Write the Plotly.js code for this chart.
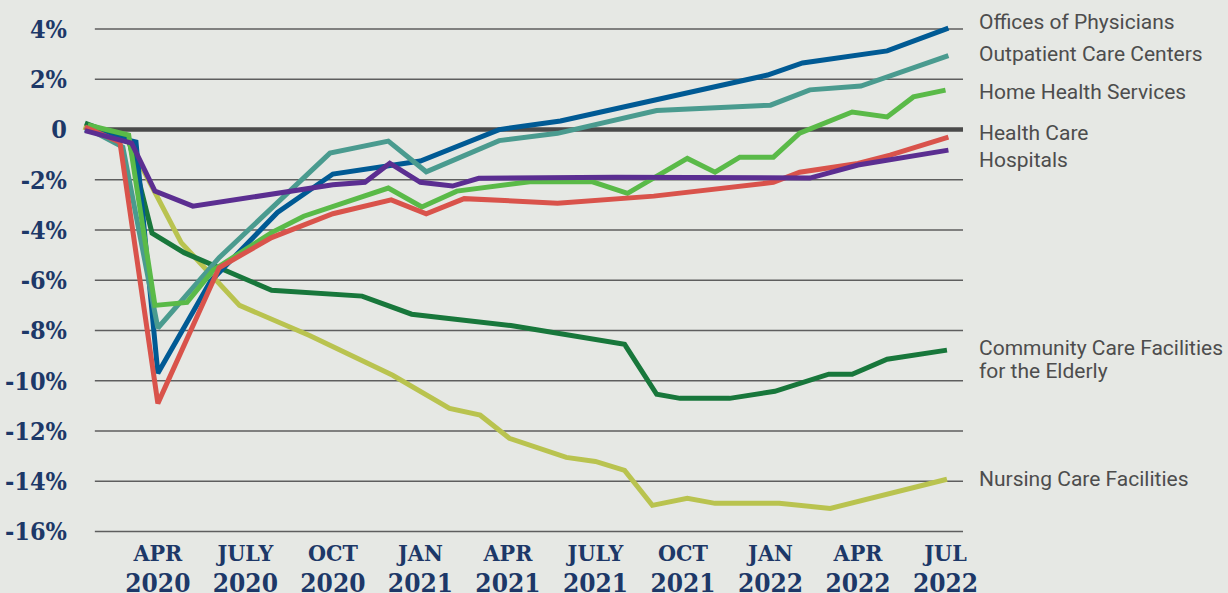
<!DOCTYPE html>
<html>
<head>
<meta charset="utf-8">
<script src="https://cdn.plot.ly/plotly-3.0.1.min.js"></script>
<style>
  html, body { margin: 0; padding: 0; background: #e6e8e4; }
  #chart { width: 1228px; height: 593px; }
</style>
</head>
<body>
<div id="chart"></div>
<script>
// x values are months since Jan 2020 (3 = Apr 2020, 30 = Jul 2022); y values are % change
const physiciansX = [0.5, 2.25, 3.0, 4.8, 7.1, 9.0, 12.0, 14.7, 16.8, 23.9, 25.1, 28.0, 30.1];
const physiciansY = [0.0, -0.5, -9.7, -6.05, -3.3, -1.77, -1.25, 0.0, 0.34, 2.17, 2.65, 3.13, 4.04];

const outpatientX = [0.5, 1.8, 3.0, 5.1, 8.9, 10.9, 12.2, 14.7, 16.7, 20.1, 24.0, 25.35, 27.1, 30.1];
const outpatientY = [0.1, -0.7, -7.9, -5.1, -0.94, -0.46, -1.68, -0.44, -0.15, 0.76, 0.97, 1.58, 1.73, 2.94];

const homeHealthX = [0.6, 2.0, 2.9, 4.0, 4.9, 6.9, 8.0, 10.9, 12.05, 13.25, 15.75, 17.9, 19.1, 21.15, 22.1, 22.95, 24.1, 25.0, 26.8, 28.0, 28.9, 30.0];
const homeHealthY = [0.18, -0.22, -7.0, -6.88, -5.6, -4.1, -3.45, -2.33, -3.08, -2.45, -2.08, -2.08, -2.54, -1.15, -1.7, -1.1, -1.1, -0.14, 0.7, 0.5, 1.3, 1.57];

const healthCareX = [0.5, 1.7, 3.0, 5.1, 6.9, 9.0, 11.0, 12.2, 13.5, 16.7, 20.0, 24.1, 25.0, 27.0, 28.1, 30.1];
const healthCareY = [0.1, -0.5, -10.9, -5.5, -4.3, -3.35, -2.8, -3.35, -2.75, -2.93, -2.65, -2.1, -1.7, -1.35, -1.02, -0.3];

const hospitalsX = [0.5, 2.1, 2.9, 4.2, 9.0, 10.1, 10.95, 12.0, 13.1, 14.0, 18.7, 25.35, 27.0, 30.1];
const hospitalsY = [-0.04, -0.54, -2.45, -3.05, -2.2, -2.1, -1.34, -2.1, -2.25, -1.94, -1.9, -1.93, -1.41, -0.82];

const communityX = [0.5, 2.0, 2.8, 3.9, 6.9, 10.0, 11.7, 15.1, 19.0, 20.1, 20.9, 22.6, 24.15, 26.0, 26.8, 28.0, 30.05];
const communityY = [0.26, -0.4, -4.12, -4.9, -6.4, -6.63, -7.35, -7.8, -8.55, -10.54, -10.7, -10.7, -10.42, -9.74, -9.74, -9.14, -8.78];

const nursingX = [0.45, 2.0, 2.9, 3.8, 5.8, 8.2, 11.05, 13.0, 14.05, 15.05, 17.0, 18.0, 19.0, 19.95, 21.15, 22.1, 24.3, 26.05, 30.05];
const nursingY = [0.1, -0.5, -2.5, -4.5, -7.0, -8.2, -9.78, -11.1, -11.37, -12.29, -13.05, -13.21, -13.57, -14.96, -14.68, -14.88, -14.88, -15.08, -13.92];

const xTickVals = [3, 6, 9, 12, 15, 18, 21, 24, 27, 30];
const xTickMonths = ["APR", "JULY", "OCT", "JAN", "APR", "JULY", "OCT", "JAN", "APR", "JUL"];
const xTickYears = ["2020", "2020", "2020", "2021", "2021", "2021", "2021", "2022", "2022", "2022"];

const yTickVals = [4, 2, 0, -2, -4, -6, -8, -10, -12, -14, -16];
const yTickText = ["4%", "2%", "0", "-2%", "-4%", "-6%", "-8%", "-10%", "-12%", "-14%", "-16%"];

const seriesNames = ["Nursing Care Facilities", "Community Care Facilities for the Elderly", "Offices of Physicians",
  "Outpatient Care Centers", "Home Health Services", "Health Care", "Hospitals"];

const colors = {
  nursing: "#b9c34f", community: "#18773b", physicians: "#005a94", outpatient: "#4a9b8f",
  homeHealth: "#5aba48", healthCare: "#d9534b", hospitals: "#5b2e91"
};

function line(x, y, name, color) {
  return { x: x, y: y, name: name, type: "scatter", mode: "lines",
           line: { color: color, width: 5, shape: "linear" }, hoverinfo: "skip" };
}

const traces = [
  line(nursingX, nursingY, seriesNames[0], colors.nursing),
  line(communityX, communityY, seriesNames[1], colors.community),
  line(physiciansX, physiciansY, seriesNames[2], colors.physicians),
  line(outpatientX, outpatientY, seriesNames[3], colors.outpatient),
  line(homeHealthX, homeHealthY, seriesNames[4], colors.homeHealth),
  line(healthCareX, healthCareY, seriesNames[5], colors.healthCare),
  line(hospitalsX, hospitalsY, seriesNames[6], colors.hospitals)
];

const gridStart = 0.84, gridEnd = 30.6;
const shapes = yTickVals.map(v => ({
  type: "line", xref: "x", yref: "y", layer: "below",
  x0: gridStart, x1: gridEnd, y0: v, y1: v,
  line: { color: v === 0 ? "#4a4a4a" : "#5e5e5e", width: v === 0 ? 4.6 : 1.6 }
}));

const labelFont = { family: "Roboto, sans-serif", size: 21, color: "#4d4d4d" };
const labelX = 1.0159; // paper fraction just right of the plot
const labelDefs = [
  ["Offices of Physicians", 4.28],
  ["Outpatient Care Centers", 3.01],
  ["Home Health Services", 1.49],
  ["Health Care", -0.14],
  ["Hospitals", -1.22],
  ["Community Care Facilities", -8.69],
  ["for the Elderly", -9.62],
  ["Nursing Care Facilities", -13.92]
];
const annotations = labelDefs.map(d => ({
  text: d[0], x: labelX, y: d[1], xref: "paper", yref: "y",
  xanchor: "left", yanchor: "middle", showarrow: false, font: labelFont
}));

const layout = {
  width: 1228, height: 593,
  paper_bgcolor: "#e6e8e4", plot_bgcolor: "#e6e8e4",
  margin: { l: 82, r: 265, t: 14, b: 59 },
  showlegend: false,
  xaxis: {
    range: [0.4, 30.6], showgrid: false, zeroline: false, showline: false, ticks: "",
    tickvals: xTickVals,
    ticktext: xTickVals.map((v, i) => "<span style='font-size:23px'>" + xTickMonths[i] + "</span><br><span style='font-size:26px'>" + xTickYears[i] + "</span>"),
    tickfont: { family: "DejaVu Serif Condensed, DejaVu Serif, serif", size: 24, color: "#1d3868", weight: "bold" },
    ticklabelstandoff: 2
  },
  yaxis: {
    range: [-16.1, 4.6], showgrid: false, zeroline: false, showline: false, ticks: "",
    tickvals: yTickVals, ticktext: yTickText,
    tickfont: { family: "DejaVu Serif Condensed, DejaVu Serif, serif", size: 25, color: "#1d3868", weight: "bold" },
    ticklabelstandoff: 14
  },
  shapes: shapes,
  annotations: annotations
};

Plotly.newPlot("chart", traces, layout, { displayModeBar: false, staticPlot: true });
</script>
</body>
</html>
